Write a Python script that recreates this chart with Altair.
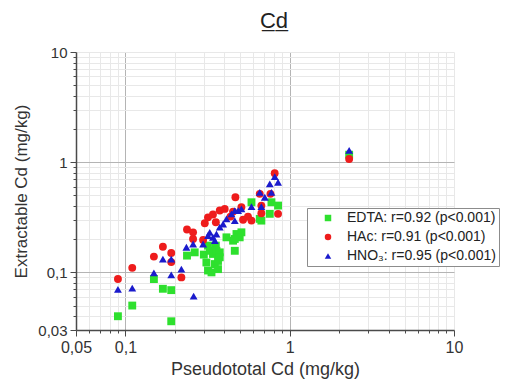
import altair as alt
import pandas as pd

# ---- data (mg/kg) ----
edta_x = [0.09, 0.11, 0.149, 0.169, 0.19, 0.19, 0.237, 0.264, 0.30, 0.311, 0.318, 0.334,
          0.326, 0.318, 0.355, 0.341, 0.358, 0.375, 0.375, 0.35, 0.366, 0.366, 0.412, 0.452,
          0.474, 0.496, 0.508, 0.463, 0.463, 0.585, 0.657, 0.672, 0.774, 0.849, 0.756, 2.3]
edta_y = [0.040, 0.050, 0.087, 0.071, 0.069, 0.036, 0.142, 0.152, 0.145, 0.123, 0.104, 0.100,
          0.157, 0.175, 0.175, 0.147, 0.157, 0.152, 0.137, 0.119, 0.107, 0.127, 0.208, 0.194,
          0.223, 0.208, 0.231, 0.157, 0.201, 0.433, 0.306, 0.295, 0.433, 0.404, 0.340, 1.17]

hac_x = [0.09, 0.11, 0.149, 0.169, 0.19, 0.19, 0.219, 0.237, 0.258, 0.258, 0.297, 0.304,
         0.318, 0.341, 0.355, 0.375, 0.402, 0.436, 0.452, 0.467, 0.508, 0.52, 0.557, 0.585,
         0.657, 0.672, 0.672, 0.763, 0.81, 0.849, 2.3]
hac_y = [0.087, 0.110, 0.139, 0.171, 0.150, 0.124, 0.090, 0.245, 0.231, 0.201, 0.197, 0.279,
         0.316, 0.335, 0.285, 0.364, 0.377, 0.321, 0.356, 0.481, 0.390, 0.300, 0.321, 0.295,
         0.516, 0.404, 0.344, 0.516, 0.794, 0.340, 1.07]

hno3_x = [0.09, 0.11, 0.149, 0.169, 0.19, 0.19, 0.219, 0.235, 0.258, 0.26, 0.297, 0.318,
          0.326, 0.341, 0.35, 0.358, 0.375, 0.393, 0.412, 0.442, 0.463, 0.485, 0.508, 0.463,
          0.585, 0.657, 0.672, 0.705, 0.756, 0.774, 0.811, 0.849, 2.3]
hno3_y = [0.070, 0.072, 0.099, 0.132, 0.132, 0.095, 0.107, 0.169, 0.181, 0.061, 0.181, 0.216,
          0.231, 0.208, 0.194, 0.223, 0.257, 0.275, 0.306, 0.340, 0.364, 0.364, 0.377, 0.295,
          0.395, 0.533, 0.395, 0.481, 0.636, 0.533, 0.741, 0.658, 1.28]

series_names = ["EDTA: r=0.92 (p<0.001)", "HAc: r=0.91 (p<0.001)", "HNO\u2083: r=0.95 (p<0.001)"]
series_colors = ["#2ee02e", "#ee1c1c", "#1a1acc"]
series_shapes = ["square", "circle", "triangle-up"]

x_ticks = [0.05, 0.06, 0.07, 0.08, 0.09, 0.1, 0.2, 0.3, 0.4, 0.5, 0.6, 0.7, 0.8, 0.9,
           1, 2, 3, 4, 5, 6, 7, 8, 9, 10]
y_ticks = [0.03, 0.04, 0.05, 0.06, 0.07, 0.08, 0.09, 0.1, 0.2, 0.3, 0.4, 0.5, 0.6, 0.7, 0.8, 0.9,
           1, 2, 3, 4, 5, 6, 7, 8, 9, 10]

rows = []
for name, xs, ys in zip(series_names, [edta_x, hac_x, hno3_x], [edta_y, hac_y, hno3_y]):
    for xv, yv in zip(xs, ys):
        rows.append({"series": name, "pseudo": xv, "extr": yv})
df = pd.DataFrame(rows)

FONT = "Liberation Sans"
major_grid = "datum.value == 0.1 || datum.value == 1"
x_major = "datum.value == 0.05 || datum.value == 0.1 || datum.value == 1 || datum.value == 10"
y_major = "datum.value == 0.03 || datum.value == 0.1 || datum.value == 1 || datum.value == 10"

legend = alt.Legend(
    title=None, orient="none", legendX=231, legendY=156,
    strokeColor="#8c8c8c", fillColor="white", padding=3,
    symbolOffset=11, labelOffset=12, rowPadding=5,
    labelFont=FONT, labelFontSize=14, labelColor="#222222",
    symbolSize=42, symbolStrokeWidth=0, labelLimit=300,
)

chart = alt.Chart(df).mark_point(filled=True, opacity=1, size=62, strokeWidth=0).encode(
    x=alt.X("pseudo:Q",
            scale=alt.Scale(type="log", domain=[0.05, 10], nice=False),
            axis=alt.Axis(values=x_ticks, title="Pseudototal Cd (mg/kg)",
                          labelExpr="datum.value == 0.05 ? '0,05' : datum.value == 0.1 ? '0,1' : datum.value == 1 ? '1' : datum.value == 10 ? '10' : ''",
                          labelOverlap=False, labelFlush=False,
                          gridColor={"condition": {"test": major_grid, "value": "#b4b4b4"}, "value": "#e8e8e8"},
                          tickSize={"condition": {"test": x_major, "value": 6}, "value": 3},
                          labelFontSize=16, titleFontSize=18, labelPadding=3, titlePadding=5)),
    y=alt.Y("extr:Q",
            scale=alt.Scale(type="log", domain=[0.03, 10], nice=False),
            axis=alt.Axis(values=y_ticks, title="Extractable Cd (mg/kg)",
                          labelExpr="datum.value == 0.03 ? '0,03' : datum.value == 0.1 ? '0,1' : datum.value == 1 ? '1' : datum.value == 10 ? '10' : ''",
                          labelOverlap=False, labelFlush=False,
                          gridColor={"condition": {"test": major_grid, "value": "#b4b4b4"}, "value": "#e8e8e8"},
                          tickSize={"condition": {"test": y_major, "value": 6}, "value": 3},
                          labelFontSize=15, titleFontSize=17, labelPadding=3, titlePadding=7)),
    color=alt.Color("series:N", scale=alt.Scale(domain=series_names, range=series_colors), legend=legend),
    shape=alt.Shape("series:N", scale=alt.Scale(domain=series_names, range=series_shapes), legend=legend),
).properties(
    width=378, height=278,
    title=alt.TitleParams("C\u0332d\u0332", font=FONT, fontSize=22, fontWeight="normal",
                          color="#222222", dx=9, offset=12),
    autosize=alt.AutoSizeParams(type="none"),
    padding={"left": 68, "top": 44, "right": 48, "bottom": 50},
).configure_view(stroke=None).configure_axis(
    labelFont=FONT, titleFont=FONT, labelColor="#333333", titleColor="#333333",
    titleFontWeight="normal", domainColor="#4a4a4a", domainWidth=1.5,
    tickColor="#4a4a4a", grid=True,
)

chart.save("out.html", embed_options={"renderer": "svg", "actions": False})
